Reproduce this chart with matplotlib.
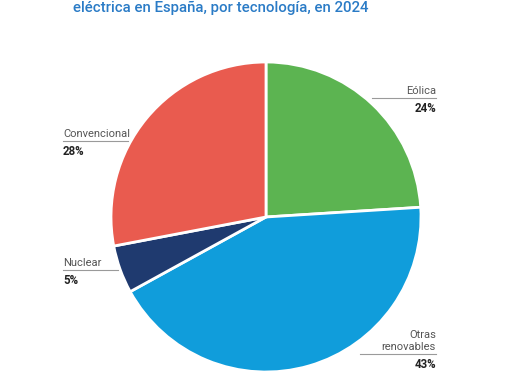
import matplotlib.pyplot as plt

# datos
tecnologias = ["Eólica", "Otras\nrenovables", "Nuclear", "Convencional"]
porcentajes = [24, 43, 5, 28]
colores = ["#5cb451", "#109ddb", "#1f3a6f", "#e95b4f"]

W, H = 510, 382
fig = plt.figure(figsize=(W / 100, H / 100), dpi=100)
ax = fig.add_axes([0, 0, 1, 1])

# pastel, empieza arriba y va en sentido horario
cx, cy, r = 266, H - 217, 155
ax.pie(porcentajes, colors=colores, startangle=90, counterclock=False,
       center=(cx, cy), radius=r, frame=True,
       wedgeprops=dict(edgecolor="white", linewidth=2))
ax.set_xlim(0, W)
ax.set_ylim(0, H)
ax.set_aspect("equal")
ax.axis("off")

# titulo (solo se ve la segunda linea)
fig.text(73 / W, 1 - 12 / H, "eléctrica en España, por tecnología, en 2024",
         color="#2a7bc6", fontsize=10.8, fontweight="medium",
         family="Roboto", ha="left", va="baseline")

# etiquetas: (x linea inicio, x linea fin, y linea, alineacion)
pos = [(372, 436, 98, "right"),
       (360, 436, 354, "right"),
       (63, 118, 270, "left"),
       (63, 128, 141, "left")]

for nombre, pct, (x0, x1, yl, al) in zip(tecnologias, porcentajes, pos):
    ax.plot([x0, x1], [H - yl, H - yl], color="#9a9a9a", lw=0.8)
    xt = x1 if al == "right" else x0
    ax.text(xt, H - yl + 2, nombre, ha=al, va="bottom", fontsize=8,
            color="#555555", family="Roboto", linespacing=1.25)
    ax.text(xt, H - yl - 4, f"{pct}%", ha=al, va="top", fontsize=8.3,
            color="#222222", fontweight="bold", family="Roboto")

fig.savefig("out.png", dpi=100)
